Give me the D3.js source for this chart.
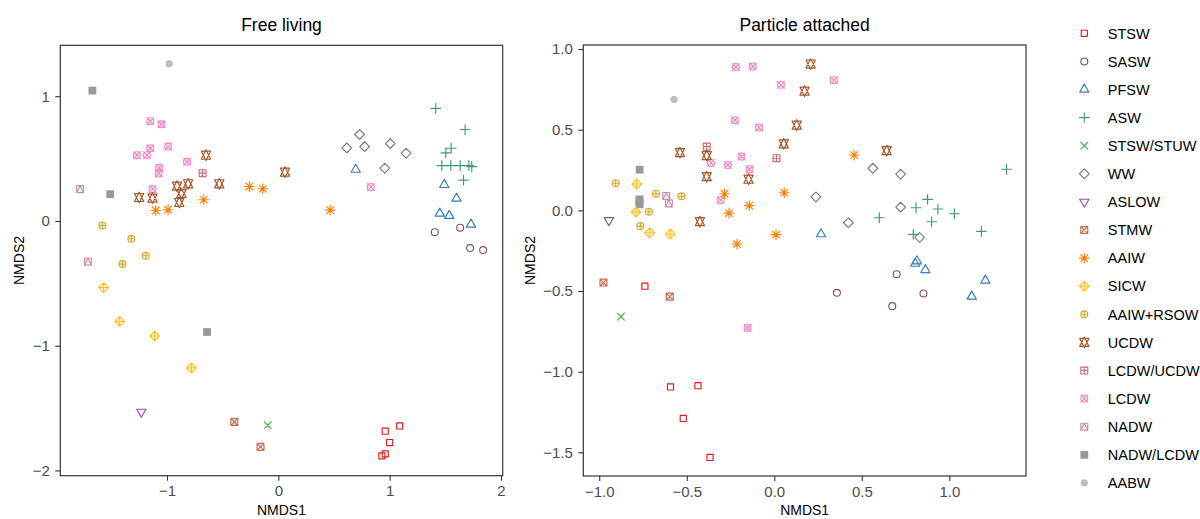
<!DOCTYPE html>
<html>
<head>
<meta charset="utf-8">
<script src="https://cdn.jsdelivr.net/npm/d3@7"></script>
<style>
  html, body { margin: 0; padding: 0; background: #fff; }
  svg { display: block; font-family: "Liberation Sans", Arial, Helvetica, sans-serif; }
</style>
</head>
<body>
<svg id="chart" width="1200" height="519"></svg>
<script>
// Water-mass groups, in legend order, with their R plotting symbols (pch) and colours
const waterMasses = ["STSW", "SASW", "PFSW", "ASW", "STSW/STUW", "WW", "ASLOW", "STMW", "AAIW",
  "SICW", "AAIW+RSOW", "UCDW", "LCDW/UCDW", "LCDW", "NADW", "NADW/LCDW", "AABW"];
const pchCodes = [0, 1, 2, 3, 4, 5, 6, 7, 8, 9, 10, 11, 12, 13, 14, 15, 16];
const massColors = ["#E41A1C", "#8E4C6A", "#377EB8", "#429781", "#4DAF4A", "#727E77", "#984EA3",
  "#CB6651", "#FF7F00", "#FFBF19", "#D2AA2D", "#A65628", "#CE6B73", "#F781BF", "#C88DAC",
  "#999999", "#BBBBBB"];

// NMDS ordination scores: [water mass, NMDS1, NMDS2]
const freeLiving = [
  ["AABW", -0.98, 1.26],
  ["NADW/LCDW", -1.67, 1.045], ["NADW/LCDW", -1.51, 0.215], ["NADW/LCDW", -0.64, -0.89],
  ["LCDW", -1.15, 0.80], ["LCDW", -1.05, 0.775], ["LCDW", -1.27, 0.527], ["LCDW", -1.18, 0.527],
  ["LCDW", -1.15, 0.583], ["LCDW", -0.99, 0.596], ["LCDW", -0.82, 0.474], ["LCDW", -1.07, 0.426],
  ["LCDW", -1.075, 0.38], ["LCDW", -1.13, 0.255], ["LCDW", 0.83, 0.271],
  ["LCDW/UCDW", -0.68, 0.383],
  ["NADW", -1.78, 0.255], ["NADW", -1.71, -0.327],
  ["UCDW", -0.65, 0.527], ["UCDW", 0.06, 0.391], ["UCDW", -1.25, 0.188], ["UCDW", -1.13, 0.183],
  ["UCDW", -0.91, 0.279], ["UCDW", -0.81, 0.298], ["UCDW", -0.53, 0.298], ["UCDW", -0.87, 0.22],
  ["UCDW", -0.89, 0.148],
  ["AAIW", -0.26, 0.276], ["AAIW", -0.14, 0.258], ["AAIW", -0.67, 0.17], ["AAIW", -1.10, 0.084],
  ["AAIW", -0.99, 0.09], ["AAIW", 0.465, 0.087],
  ["AAIW+RSOW", -1.58, -0.036], ["AAIW+RSOW", -1.32, -0.143], ["AAIW+RSOW", -1.19, -0.279],
  ["AAIW+RSOW", -1.40, -0.346],
  ["SICW", -1.57, -0.535], ["SICW", -1.425, -0.805], ["SICW", -1.11, -0.922], ["SICW", -0.78, -1.178],
  ["ASLOW", -1.23, -1.531],
  ["STMW", -0.395, -1.611], ["STMW", -0.16, -1.811],
  ["STSW/STUW", -0.095, -1.637],
  ["STSW", 1.09, -1.643], ["STSW", 0.96, -1.685], ["STSW", 1.0, -1.776], ["STSW", 0.96, -1.867],
  ["STSW", 0.93, -1.883],
  ["WW", 0.73, 0.693], ["WW", 0.615, 0.586], ["WW", 0.775, 0.596], ["WW", 1.005, 0.62],
  ["WW", 1.147, 0.543], ["WW", 0.956, 0.423],
  ["PFSW", 0.695, 0.412], ["PFSW", 1.49, 0.29], ["PFSW", 1.60, 0.18], ["PFSW", 1.45, 0.06],
  ["PFSW", 1.535, 0.042], ["PFSW", 1.73, -0.028],
  ["ASW", 1.414, 0.903], ["ASW", 1.677, 0.733], ["ASW", 1.552, 0.583], ["ASW", 1.504, 0.546],
  ["ASW", 1.468, 0.444], ["ASW", 1.549, 0.444], ["ASW", 1.633, 0.444], ["ASW", 1.711, 0.444],
  ["ASW", 1.737, 0.436], ["ASW", 1.663, 0.327],
  ["SASW", 1.405, -0.09], ["SASW", 1.633, -0.054], ["SASW", 1.722, -0.217], ["SASW", 1.839, -0.233]
];

const particleAttached = [
  ["AABW", -0.573, 0.687],
  ["NADW/LCDW", -0.769, 0.252], ["NADW/LCDW", -0.77, 0.068], ["NADW/LCDW", -0.77, 0.052],
  ["NADW/LCDW", -0.77, 0.037],
  ["AAIW+RSOW", -0.906, 0.168], ["AAIW+RSOW", -0.676, 0.103], ["AAIW+RSOW", -0.53, 0.087],
  ["AAIW+RSOW", -0.716, -0.009], ["AAIW+RSOW", -0.765, -0.098],
  ["SICW", -0.786, 0.163], ["SICW", -0.79, -0.011], ["SICW", -0.712, -0.139], ["SICW", -0.594, -0.147],
  ["ASLOW", -0.945, -0.062],
  ["NADW", -0.617, 0.089], ["NADW", -0.602, 0.043],
  ["LCDW", -0.219, 0.888], ["LCDW", -0.123, 0.892], ["LCDW", 0.038, 0.778], ["LCDW", 0.341, 0.807],
  ["LCDW", -0.225, 0.559], ["LCDW", -0.087, 0.513], ["LCDW", -0.362, 0.294], ["LCDW", -0.265, 0.281],
  ["LCDW", -0.187, 0.333], ["LCDW", -0.141, 0.255], ["LCDW", -0.307, 0.064], ["LCDW", -0.152, -0.729],
  ["LCDW/UCDW", -0.386, 0.395], ["LCDW/UCDW", 0.013, 0.323],
  ["UCDW", -0.539, 0.358], ["UCDW", -0.386, 0.339], ["UCDW", -0.386, 0.209], ["UCDW", -0.147, 0.193],
  ["UCDW", -0.425, -0.07], ["UCDW", 0.054, 0.412], ["UCDW", 0.128, 0.528], ["UCDW", 0.173, 0.739],
  ["UCDW", 0.208, 0.907], ["UCDW", 0.642, 0.37],
  ["AAIW", -0.284, 0.103], ["AAIW", -0.259, -0.017], ["AAIW", -0.143, 0.029], ["AAIW", -0.213, -0.209],
  ["AAIW", 0.01, -0.151], ["AAIW", 0.057, 0.109], ["AAIW", 0.456, 0.343],
  ["WW", 0.238, 0.083], ["WW", 0.423, -0.077], ["WW", 0.563, 0.261], ["WW", 0.722, 0.224],
  ["WW", 0.722, 0.02], ["WW", 0.83, -0.168],
  ["ASW", 1.327, 0.255], ["ASW", 0.876, 0.068], ["ASW", 0.81, 0.016], ["ASW", 0.935, 0.008],
  ["ASW", 1.029, -0.021], ["ASW", 0.60, -0.046], ["ASW", 0.899, -0.071], ["ASW", 1.183, -0.13],
  ["ASW", 0.794, -0.149],
  ["PFSW", 0.267, -0.147], ["PFSW", 0.805, -0.33], ["PFSW", 0.815, -0.315], ["PFSW", 0.863, -0.37],
  ["PFSW", 1.206, -0.435], ["PFSW", 1.128, -0.534],
  ["SASW", 0.699, -0.396], ["SASW", 0.358, -0.511], ["SASW", 0.852, -0.515], ["SASW", 0.674, -0.594],
  ["STMW", -0.976, -0.448], ["STMW", -0.597, -0.535],
  ["STSW/STUW", -0.876, -0.659],
  ["STSW", -0.739, -0.47], ["STSW", -0.593, -1.095], ["STSW", -0.436, -1.087], ["STSW", -0.52, -1.29],
  ["STSW", -0.367, -1.532]
];

// Axis ticks for each panel
const freeXTicks = [-1, 0, 1, 2];
const freeYTicks = [-2, -1, 0, 1];
const paXTicks = [-1.0, -0.5, 0.0, 0.5, 1.0];
const paYTicks = [-1.5, -1.0, -0.5, 0.0, 0.5, 1.0];

const svg = d3.select("#chart");

const shapeOf = d3.scaleOrdinal().domain(waterMasses).range(pchCodes);
const colorOf = d3.scaleOrdinal().domain(waterMasses).range(massColors);

// R-style plotting symbols as SVG paths (centred on 0,0, y pointing down)
const RAD = 3.45;
function pchPath(pch) {
  const R = RAD;
  const sq = h => `M${-h},${-h}H${h}V${h}H${-h}Z`;
  const circ = r => `M${r},0A${r},${r} 0 1,1 ${-r},0A${r},${r} 0 1,1 ${r},0Z`;
  const plus = h => `M${-h},0H${h}M0,${-h}V${h}`;
  const cross = h => `M${-h},${-h}L${h},${h}M${-h},${h}L${h},${-h}`;
  const dia = h => `M0,${-h}L${h},0L0,${h}L${-h},0Z`;
  const TRC0 = Math.sqrt(4 * Math.PI / (3 * Math.sqrt(3)));
  const TRC1 = TRC0 * Math.sqrt(3) / 2, TRC2 = TRC0 / 2;
  const triUp = (r, yc, xc) => `M0,${-r}L${xc},${yc}L${-xc},${yc}Z`;
  const triDown = (r, yc, xc) => `M0,${r}L${xc},${-yc}L${-xc},${-yc}Z`;
  switch (pch) {
    case 0: return sq(R * 0.8862);
    case 1: return circ(R);
    case 2: return triUp(TRC0 * R, TRC2 * R, TRC1 * R);
    case 3: return plus(Math.SQRT2 * R);
    case 4: return cross(R);
    case 5: return dia(Math.SQRT2 * R);
    case 6: return triDown(TRC0 * R, TRC2 * R, TRC1 * R);
    case 7: return sq(R) + cross(R);
    case 8: return cross(R) + plus(Math.SQRT2 * R);
    case 9: return dia(Math.SQRT2 * R) + plus(Math.SQRT2 * R);
    case 10: return circ(R) + plus(R);
    case 11: {
      const r = TRC0 * R, yc = 0.5 * (TRC2 * R + r), xc = TRC1 * R;
      return triUp(r, yc, xc) + triDown(r, yc, xc);
    }
    case 12: return sq(R) + plus(R);
    case 13: return circ(R) + cross(R);
    case 14: return sq(R) + `M0,${-R}L${R},${R}L${-R},${R}Z`;
    case 15: return sq(R * 1.13);
    case 16: return circ(R * 0.95);
  }
}

function drawSymbol(sel, group) {
  const pch = shapeOf(group);
  const col = colorOf(group);
  const p = sel.append("path").attr("d", pchPath(pch))
    .attr("stroke-linejoin", "round").attr("stroke-linecap", "round");
  if (pch === 15) p.attr("fill", col).attr("stroke", "none");
  else if (pch === 16) p.attr("fill", col).attr("stroke", col).attr("stroke-width", 0.8);
  else p.attr("fill", "none").attr("stroke", col).attr("stroke-width", 1.15);
}

function drawPanel(opt) {
  const { data, title, left, right, top, bottom, xDomain, yDomain, xTicks, yTicks, fmt, yTitleX } = opt;
  const x = d3.scaleLinear().domain(xDomain).range([left, right]);
  const y = d3.scaleLinear().domain(yDomain).range([bottom, top]);
  const g = svg.append("g");

  g.append("rect").attr("x", left).attr("y", top)
    .attr("width", right - left).attr("height", bottom - top).attr("fill", "#fff");

  const styleAxis = a => {
    a.select(".domain").remove();
    a.selectAll(".tick line").attr("stroke", "#333").attr("stroke-width", 1.1);
    a.selectAll(".tick text").attr("fill", "#4D4D4D")
      .attr("font-family", "'Liberation Sans', Arial, Helvetica, sans-serif").attr("font-size", 15);
  };

  g.append("g").attr("transform", `translate(0,${bottom})`)
    .call(d3.axisBottom(x).tickValues(xTicks).tickFormat(d3.format(fmt)).tickSize(5).tickPadding(5))
    .call(styleAxis);
  g.append("g").attr("transform", `translate(${left},0)`)
    .call(d3.axisLeft(y).tickValues(yTicks).tickFormat(d3.format(fmt)).tickSize(5).tickPadding(5.5))
    .call(styleAxis);

  g.selectAll("g.pt").data(data).enter().append("g").attr("class", "pt")
    .attr("transform", d => `translate(${x(d[1])},${y(d[2])})`)
    .each(function (d) { drawSymbol(d3.select(this), d[0]); });

  g.append("rect").attr("x", left).attr("y", top)
    .attr("width", right - left).attr("height", bottom - top)
    .attr("fill", "none").attr("stroke", "#333").attr("stroke-width", 1.2);

  g.append("text").attr("x", (left + right) / 2).attr("y", 31)
    .attr("text-anchor", "middle").attr("font-size", 17.5).attr("fill", "#000").text(title);
  g.append("text").attr("x", (left + right) / 2).attr("y", 515)
    .attr("text-anchor", "middle").attr("font-size", 14).attr("fill", "#000").text("NMDS1");
  g.append("text").attr("transform", `translate(${yTitleX},${(top + bottom) / 2}) rotate(-90)`)
    .attr("text-anchor", "middle").attr("font-size", 14).attr("fill", "#000").text("NMDS2");
}

drawPanel({
  data: freeLiving, title: "Free living",
  left: 60.3, right: 502.7, top: 45.3, bottom: 475.7,
  xDomain: [-1.958, 2.015], yDomain: [-2.042, 1.408],
  xTicks: freeXTicks, yTicks: freeYTicks, fmt: "d", yTitleX: 24
});

drawPanel({
  data: particleAttached, title: "Particle attached",
  left: 583.3, right: 1026, top: 45, bottom: 476,
  xDomain: [-1.091, 1.438], yDomain: [-1.647, 1.025],
  xTicks: paXTicks, yTicks: paYTicks, fmt: ".1f", yTitleX: 535
});

// Legend
const legend = svg.append("g");
const rows = legend.selectAll("g").data(waterMasses).enter().append("g")
  .attr("transform", (d, i) => `translate(1084.3,${33.3 + i * 28.1})`);
rows.each(function (d) { drawSymbol(d3.select(this), d); });
rows.append("text").attr("x", 23.5).attr("y", 5.2)
  .attr("font-size", 14.5).attr("fill", "#000").text(d => d);
</script>
</body>
</html>
